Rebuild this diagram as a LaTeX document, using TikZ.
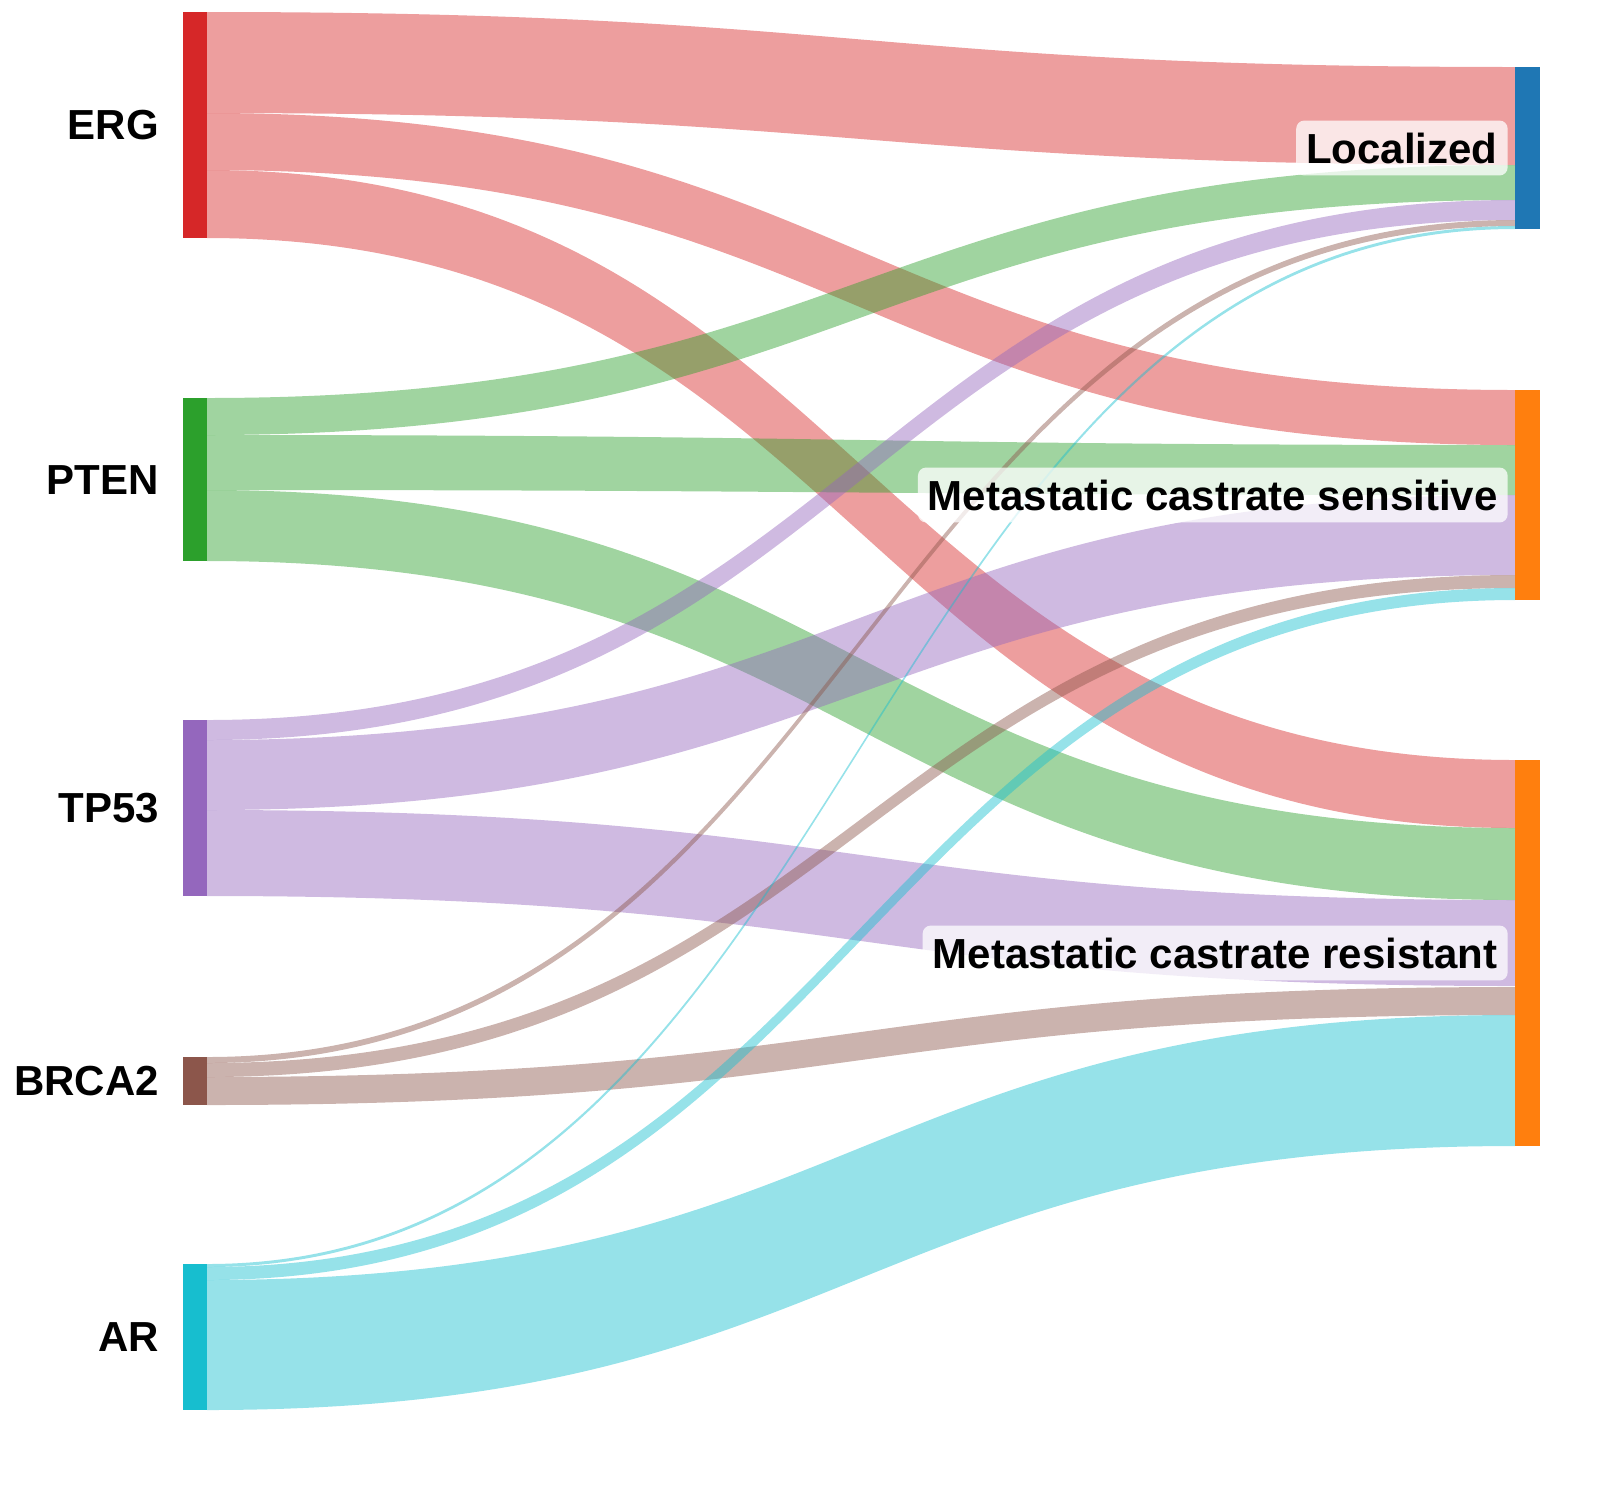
\documentclass[tikz,border=0pt]{standalone}
\usepackage{fontspec}
\setmainfont{Liberation Sans}
\definecolor{cERG}{HTML}{D62728}
\definecolor{cPTEN}{HTML}{2CA02C}
\definecolor{cTP}{HTML}{9467BD}
\definecolor{cBR}{HTML}{8C564B}
\definecolor{cAR}{HTML}{17BECF}
\definecolor{cLoc}{HTML}{1F77B4}
\definecolor{cMet}{HTML}{FF7F0E}
\newcommand{\sflow}[5]{\fill[#1,fill opacity=0.45] (207,#2) .. controls (861,#2) and (861,#4) .. (1515,#4) -- (1515,#5) .. controls (861,#5) and (861,#3) .. (207,#3) -- cycle;}
\begin{document}
\begin{tikzpicture}[x=0.5pt,y=-0.5pt,
  lab/.style={font=\fontsize{21}{24}\selectfont\bfseries,anchor=east},
  rlab/.style={font=\fontsize{21}{24}\selectfont\bfseries,anchor=east,fill=white,fill opacity=0.75,text opacity=1,rounded corners=4pt,inner xsep=5pt,inner ysep=6pt}]
\useasboundingbox (0,0) rectangle (1615,1495);
% flows
\sflow{cERG}{12}{113}{67}{165}
\sflow{cERG}{113}{170}{390}{445}
\sflow{cERG}{170}{238}{760}{828}
\sflow{cPTEN}{398}{435}{165}{200}
\sflow{cPTEN}{435}{490}{445}{495}
\sflow{cPTEN}{490}{561}{828}{900}
\sflow{cTP}{720}{740}{200}{220}
\sflow{cTP}{740}{810}{495}{575}
\sflow{cTP}{810}{896}{900}{986}
\sflow{cBR}{1057}{1063}{220}{226}
\sflow{cBR}{1063}{1077}{575}{588}
\sflow{cBR}{1077}{1105}{987}{1015}
\sflow{cAR}{1264}{1267}{226}{229}
\sflow{cAR}{1267}{1280}{588}{600}
\sflow{cAR}{1280}{1410}{1015}{1146}
% nodes
\fill[cERG] (183,12) rectangle (207,238); \node[lab] (erg) at (166,125) {ERG};
\fill[cPTEN] (183,398) rectangle (207,561); \node[lab] (pten) at (166,480) {PTEN};
\fill[cTP] (183,720) rectangle (207,896); \node[lab] (tp53) at (166,808) {TP53};
\fill[cBR] (183,1057) rectangle (207,1105); \node[lab] (brca) at (166,1081) {BRCA2};
\fill[cAR] (183,1264) rectangle (207,1410); \node[lab] (ar) at (166,1337) {AR};
\fill[cLoc] (1515,67) rectangle (1540,229);
\fill[cMet] (1515,390) rectangle (1540,600);
\fill[cMet] (1515,760) rectangle (1540,1146);
\node[rlab] (loc) at (1508,148) {Localized};
\node[rlab] (mcs) at (1508,495) {Metastatic castrate sensitive};
\node[rlab] (mcr) at (1508,953) {Metastatic castrate resistant};
\end{tikzpicture}
\end{document}
